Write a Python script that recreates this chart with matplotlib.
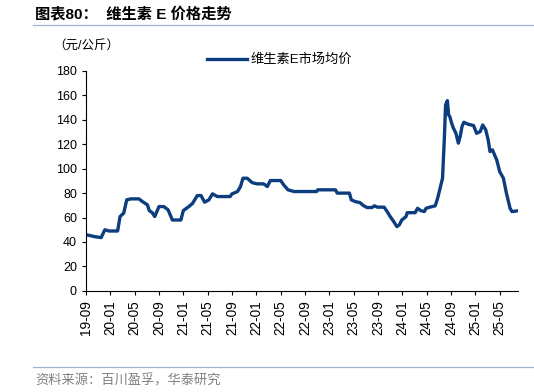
import matplotlib
matplotlib.use('Agg')
import matplotlib.pyplot as plt
from matplotlib.lines import Line2D

plt.rcParams['font.family'] = ['Liberation Sans', 'Noto Sans CJK SC', 'DejaVu Sans']

# 月份偏移（以 2019-09 为 0）与维生素E市场均价（元/公斤）
meses = [0.0, 0.2, 1.4, 2.5, 3.1, 3.8, 5.2, 5.6, 6.2, 6.7, 7.4, 8.7, 9.3, 10.1, 10.4, 10.9,
         11.3, 12.0, 12.8, 13.5, 14.2, 15.6, 16.0, 16.9, 17.5, 18.3, 18.9, 19.5, 20.2, 20.8,
         21.6, 23.7, 24.0, 24.9, 25.4, 25.8, 26.5, 27.3, 28.1, 29.2, 29.8, 30.3, 32.0, 32.5,
         33.2, 34.2, 37.9, 38.1, 41.0, 41.3, 43.3, 43.6, 44.3, 45.0, 45.6, 46.2, 47.0, 47.4,
         47.9, 49.0, 49.5, 50.0, 50.5, 51.1, 51.5, 51.9, 52.6, 52.8, 54.1, 54.5, 55.0, 55.6,
         55.9, 56.5, 57.4, 57.8, 58.2, 58.6, 58.9, 59.1, 59.4, 59.6, 59.8, 60.1, 60.4, 60.8,
         61.2, 61.5, 61.8, 62.1, 62.8, 63.7, 64.2, 64.8, 65.2, 65.7, 66.1, 66.4, 66.8, 67.5,
         68.0, 68.6, 69.1, 69.7, 70.0, 70.9]
precio = [46, 45.8, 44.4, 43.6, 50, 49, 49, 60.8, 63.6, 74.5, 75.3, 75.3, 73, 70.4, 65.7, 64,
          60.8, 69, 69, 66.3, 58, 58, 65.7, 69, 71.5, 78, 78, 72.6, 74.5, 79.4,
          77.2, 77.2, 79.4, 81.3, 85.4, 92.2, 92.2, 88.6, 87.6, 87.6, 85.4, 90.3, 90.3, 86.7,
          82.7, 81.3, 81.3, 82.7, 82.7, 80, 80, 74.5, 73, 72.3, 69.8, 68.2, 68.2, 69.6,
          68.5, 68.5, 64.9, 60.8, 57.3, 52.6, 54, 58, 60.8, 64, 64, 67.6, 65.7, 64.9,
          67.6, 68.5, 69.6, 75.9, 84, 92.2, 125, 152.2, 155.7, 144, 142.6, 137.2, 133.1, 129,
          120.9, 126.3, 134.5, 138, 136.4, 135.3, 129, 130.4, 135.8, 131.8, 123.6, 114, 115.4, 107.2,
          97.6, 92.2, 80, 67.6, 64.9, 65.5]

ticks_x = list(range(0, 72, 4))
etiquetas = ['19-09', '20-01', '20-05', '20-09', '21-01', '21-05', '21-09', '22-01', '22-05',
             '22-09', '23-01', '23-05', '23-09', '24-01', '24-05', '24-09', '25-01', '25-05']

azul = '#0b3d7f'

fig = plt.figure(figsize=(5.34, 3.92), dpi=100)
ax = fig.add_axes([0.161, 0.258, 0.809, 0.561])

ax.plot(meses, precio, color=azul, linewidth=2.4, label='维生素E市场均价')

ax.set_xlim(0, 71)
ax.set_ylim(0, 180)
ax.set_yticks(range(0, 181, 20))
ax.set_xticks(ticks_x)
ax.set_xticklabels(etiquetas, rotation=90)
ax.tick_params(axis='both', direction='out', length=3, width=0.8, colors='black')
ax.tick_params(axis='y', labelsize=9)
ax.tick_params(axis='x', labelsize=9.8)
for lado in ['top', 'right']:
    ax.spines[lado].set_visible(False)
for lado in ['left', 'bottom']:
    ax.spines[lado].set_linewidth(0.8)

ax.legend(loc='center left', bbox_to_anchor=(0.28, 1.05), frameon=False, fontsize=9.5,
          handlelength=3.0, handletextpad=0.3, borderaxespad=0, borderpad=0)

# 标题、单位、来源
fig.text(0.066, 0.964, '图表80：  维生素 E 价格走势', fontsize=11, fontweight='bold',
         va='center', ha='left')
fig.add_artist(Line2D([0.062, 1.0], [0.936, 0.936], color='#9fb6d3', linewidth=0.9))
fig.text(0.1, 0.882, '（元/公斤）', fontsize=9, va='center', ha='left')
fig.add_artist(Line2D([0.062, 1.0], [0.064, 0.064], color='#9fb6d3', linewidth=0.9))
fig.text(0.066, 0.028, '资料来源：百川盈孚，华泰研究', fontsize=9.5, color='#808080',
         va='center', ha='left')

fig.savefig('out.png', dpi=100)
